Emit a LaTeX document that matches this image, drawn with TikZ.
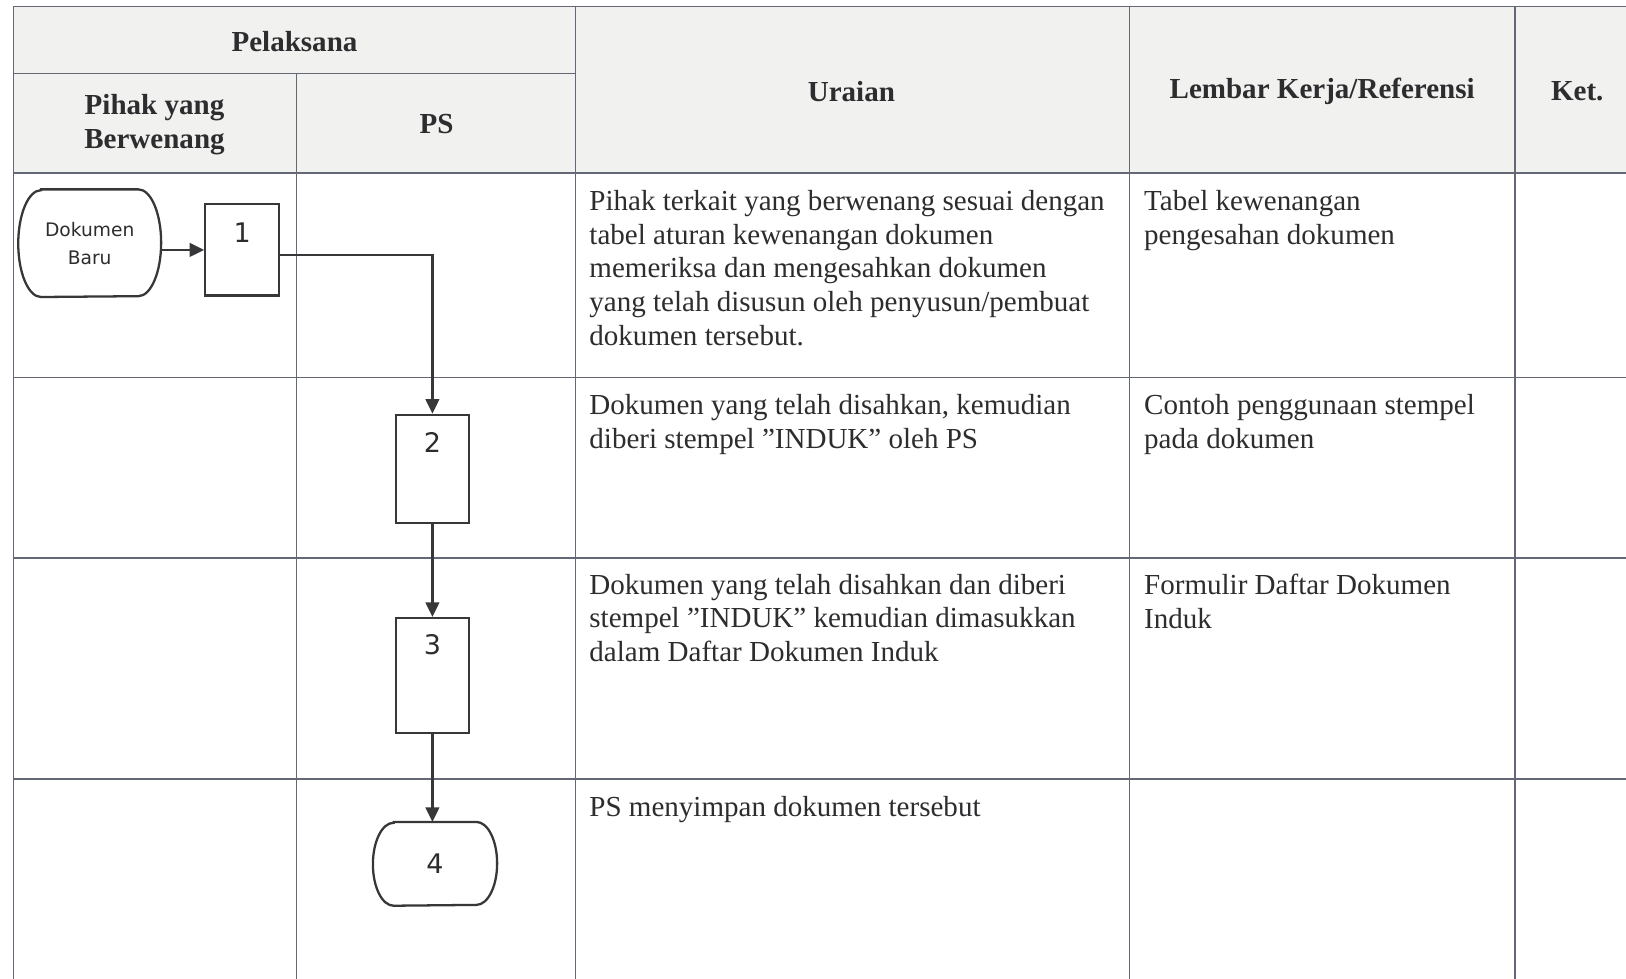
\documentclass[tikz,border=0pt]{standalone}
\usepackage{fontspec}
\setmainfont{Liberation Serif}
\newfontfamily\flowfont{DejaVu Sans}
\usetikzlibrary{arrows.meta}
\definecolor{gridcol}{RGB}{100,104,118}
\definecolor{inkcol}{RGB}{45,45,48}
\definecolor{headfill}{RGB}{241,241,239}
\definecolor{flowcol}{RGB}{55,55,58}
\begin{document}
\begin{tikzpicture}[x=0.5pt,y=-0.5pt,
 grid/.style={draw=gridcol,line width=0.7pt},
 hdr/.style={font=\fontsize{14}{16.25}\selectfont\bfseries, text=inkcol, align=center, inner sep=0},
 body/.style={font=\fontsize{14}{16.25}\selectfont, text=inkcol, align=left, anchor=north west, inner sep=0},
 procbox/.style={draw=flowcol, line width=1.1pt, rectangle, inner sep=0},
 termtext/.style={draw=none, rectangle, inner sep=0, font=\flowfont\fontsize{9}{13.5}\selectfont, text=inkcol, align=center},
 termline/.style={draw=flowcol, line width=1.1pt},
 num/.style={font=\flowfont\fontsize{13}{15}\selectfont, text=inkcol, inner sep=0},
 flow/.style={draw=flowcol, line width=1.2pt, -{Triangle[length=7pt,width=6.5pt]}}
]
\useasboundingbox (0,0) rectangle (1568,944);
\clip (0,0) rectangle (1568,944);
\fill[white] (0,0) rectangle (1568,944);
\fill[headfill] (13,6) rectangle (1580,167);

% grid
\draw[grid] (13,6) -- (1580,6);
\draw[grid] (13,6) -- (13,960);
\draw[grid] (13,71) -- (555,71);
\draw[grid] (286,71) -- (286,960);
\draw[grid] (555,6) -- (555,960);
\draw[grid] (1089,6) -- (1089,960);
\draw[grid] (1461,6) -- (1461,960);
\draw[grid] (13,167) -- (1580,167);
\draw[grid] (13,364) -- (1580,364);
\draw[grid] (13,538) -- (1580,538);
\draw[grid] (13,751) -- (1580,751);

% headers
\node[hdr] (hpel) at (284,40) {Pelaksana};
\node[hdr] (hpih) at (149,120) {Pihak yang\\Berwenang};
\node[hdr] (hps) at (421,120) {PS};
\node[hdr] (hura) at (821,88) {Uraian};
\node[hdr] (hlem) at (1275,88) {Lembar Kerja/Referensi};
\node[hdr] (hket) at (1521,88) {Ket.};

% body text
\node[body] (u1) at (568,183) {Pihak terkait yang berwenang sesuai dengan\\tabel aturan kewenangan dokumen\\memeriksa dan mengesahkan dokumen\\yang telah disusun oleh penyusun/pembuat\\dokumen tersebut.};
\node[body] (l1) at (1103,183) {Tabel kewenangan\\pengesahan dokumen};
\node[body] (u2) at (568,380) {Dokumen yang telah disahkan, kemudian\\diberi stempel ”INDUK” oleh PS};
\node[body] (l2) at (1103,380) {Contoh penggunaan stempel\\pada dokumen};
\node[body] (u3) at (568,553) {Dokumen yang telah disahkan dan diberi\\stempel ”INDUK” kemudian dimasukkan\\dalam Daftar Dokumen Induk};
\node[body] (l3) at (1103,553) {Formulir Daftar Dokumen\\Induk};
\node[body] (u4) at (568,768) {PS menyimpan dokumen tersebut};

% flowchart
\node[termtext, minimum width=46.5pt, minimum height=51.5pt] (doc) at (86.5,234.5) {Dokumen\\Baru};
\draw[termline] (doc.north west) -- (doc.north east)
  arc[start angle=90, end angle=-90, x radius=11pt, y radius=25.75pt]
  -- (doc.south west)
  arc[start angle=270, end angle=90, x radius=11pt, y radius=25.75pt] -- cycle;
\node[procbox, minimum width=35.5pt, minimum height=44pt, label={[num, anchor=north, yshift=-9.5pt]north:1}] (b1) at (233.5,241) {};
\node[procbox, minimum width=35pt, minimum height=52pt, label={[num, anchor=north, yshift=-9pt]north:2}] (b2) at (417,452) {};
\node[procbox, minimum width=35pt, minimum height=55.5pt, label={[num, anchor=north, yshift=-8.5pt]north:3}] (b3) at (417,651.5) {};
\node[termtext, minimum width=39.5pt, minimum height=40pt, font=\flowfont\fontsize{13}{15}\selectfont] (b4) at (419.5,833) {4};
\draw[termline] (b4.north west) -- (b4.north east)
  arc[start angle=90, end angle=-90, x radius=10pt, y radius=20pt]
  -- (b4.south west)
  arc[start angle=270, end angle=90, x radius=10pt, y radius=20pt] -- cycle;

\draw[flow] (doc.east |- b1.west) ++(11pt,0) -- (b1.west);
\draw[flow] ([yshift=-2.5pt]b1.east) -| (b2.north);
\draw[flow] (b2.south) -- (b3.north);
\draw[flow] (b3.south) -- (b3.south |- b4.north);
\end{tikzpicture}
\end{document}
